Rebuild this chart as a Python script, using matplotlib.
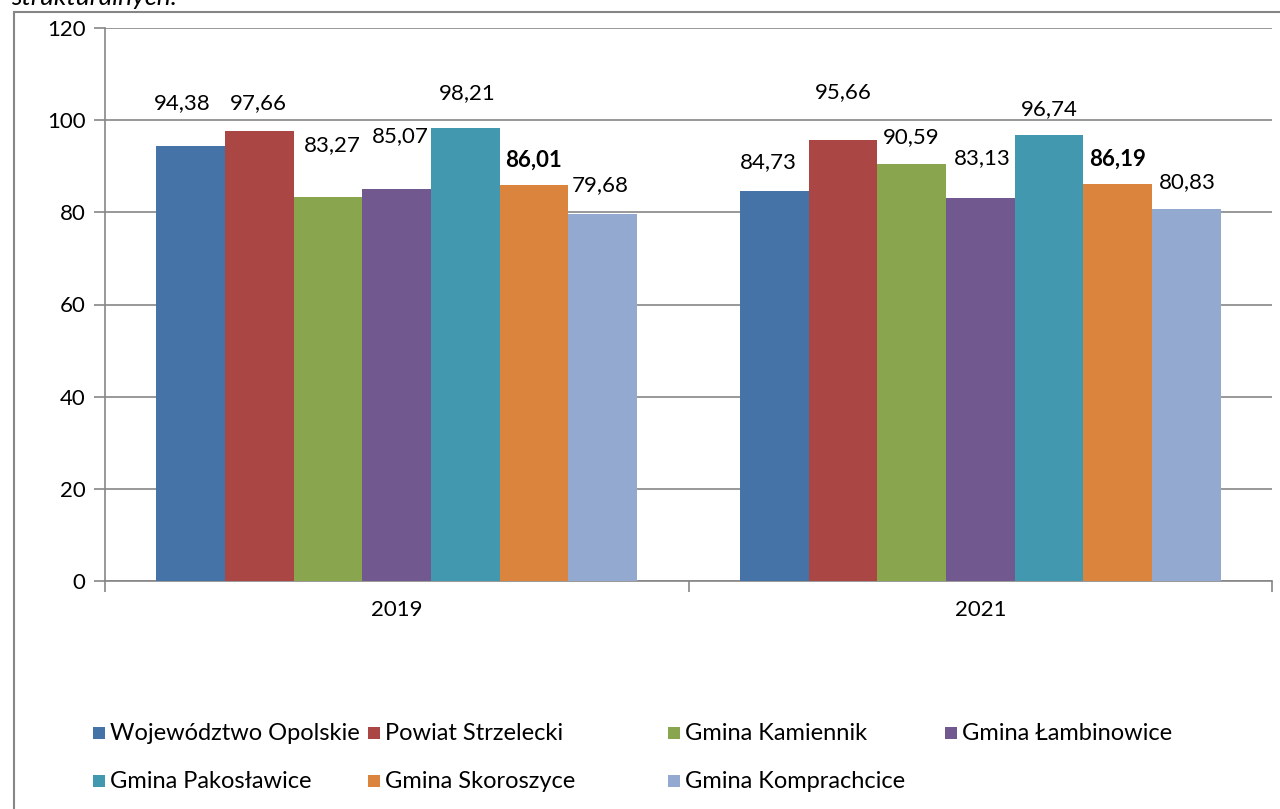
import matplotlib
matplotlib.use("Agg")
import matplotlib.pyplot as plt
from matplotlib.patches import Rectangle
import numpy as np

years = ["2019", "2021"]
series = ["Województwo Opolskie", "Powiat Strzelecki", "Gmina Kamiennik", "Gmina Łambinowice",
          "Gmina Pakosławice", "Gmina Skoroszyce", "Gmina Komprachcice"]
values = {
    "Województwo Opolskie": [94.38, 84.73],
    "Powiat Strzelecki": [97.66, 95.66],
    "Gmina Kamiennik": [83.27, 90.59],
    "Gmina Łambinowice": [85.07, 83.13],
    "Gmina Pakosławice": [98.21, 96.74],
    "Gmina Skoroszyce": [86.01, 86.19],
    "Gmina Komprachcice": [79.68, 80.83],
}
colors = ["#4572A7", "#AA4643", "#89A54E", "#71588F", "#4198AF", "#DB843D", "#93A9CF"]
# label vertical placement (data units) as Excel placed them
label_y = {
    "Województwo Opolskie": [103.7, 90.9],
    "Powiat Strzelecki": [103.7, 106.1],
    "Gmina Kamiennik": [94.5, 96.4],
    "Gmina Łambinowice": [96.6, 91.8],
    "Gmina Pakosławice": [105.8, 102.4],
    "Gmina Skoroszyce": [91.4, 91.6],
    "Gmina Komprachcice": [85.9, 86.6],
}
# horizontal nudges of labels (pixels)
label_dx = {
    "Województwo Opolskie": [-9, -6],
    "Powiat Strzelecki": [-1, 0],
    "Gmina Kamiennik": [4, 0],
    "Gmina Łambinowice": [4, 2],
    "Gmina Pakosławice": [2, 0],
    "Gmina Skoroszyce": [-1, 0],
    "Gmina Komprachcice": [-2, 1],
}
bold_series = {"Gmina Skoroszyce"}

plt.rcParams['font.family'] = ['Lato', 'DejaVu Sans']
FS = 16

W, H = 1280, 809
fig = plt.figure(figsize=(W/100, H/100), dpi=100)
ax = fig.add_axes([105/W, 1-581/H, (1272-105)/W, (581-28)/H])

n = len(series)
gap = 1.5
bw = 1.0 / (n + gap)
x = np.arange(len(years))
for i, s in enumerate(series):
    off = -0.5 + gap*bw/2 + bw*(i+0.5)
    ax.bar(x + off, values[s], width=bw, color=colors[i], linewidth=0, zorder=3)
    for j in range(len(years)):
        txt = f"{values[s][j]:.2f}".replace(".", ",")
        ax.annotate(txt, (x[j] + off, label_y[s][j]), xytext=(label_dx[s][j]*0.72, 0),
                    textcoords='offset points', ha='center', va='center', fontsize=FS,
                    fontweight='bold' if s in bold_series else 'normal', zorder=4)

ax.set_xlim(-0.5, len(years) - 0.5)
ax.set_ylim(0, 120)
ax.set_yticks(np.arange(0, 121, 20))
ax.set_yticklabels([str(v) for v in range(0, 121, 20)], fontsize=FS)
ax.yaxis.grid(True, color="#868686", linewidth=1.2, zorder=0)
ax.set_axisbelow(True)
ax.set_xticks(x)
ax.set_xticklabels(years, fontsize=FS)
ax.set_xticks(np.arange(-0.5, len(years), 1.0), minor=True)
ax.tick_params(axis='x', which='major', length=0, pad=14)
ax.tick_params(axis='x', which='minor', length=8, color="#868686", width=1.2, direction='out')
ax.tick_params(axis='y', length=8, color="#868686", width=1.2, direction='out', pad=6)
for sp in ['top', 'right']:
    ax.spines[sp].set_visible(False)
for sp in ['left', 'bottom']:
    ax.spines[sp].set_color("#868686")
    ax.spines[sp].set_linewidth(1.2)

# outer chart border
fig.patches.append(Rectangle((14/W, -0.01), 1.02 - 14/W, 1 - 12/H + 0.01, transform=fig.transFigure,
                             fill=False, edgecolor="#868686", linewidth=1.5))
fig.text(11/W, 1 - 5/H, "strukturalnych.", fontsize=19, style='italic', va='baseline', ha='left')

# legend (manual, Excel layout)
LFS = 17
col_x = [93, 368, 668, 945]
row_y = [733, 781]
for i, s in enumerate(series):
    r, c = divmod(i, 4)
    xm, ym = col_x[c], row_y[r]
    fig.patches.append(Rectangle((xm/W, 1-(ym+6)/H), 12/W, 12/H, transform=fig.transFigure,
                                 facecolor=colors[i], edgecolor='none'))
    fig.text((xm+17)/W, 1-ym/H, s, fontsize=LFS, va='center', ha='left')

fig.savefig("out.png", dpi=100)
